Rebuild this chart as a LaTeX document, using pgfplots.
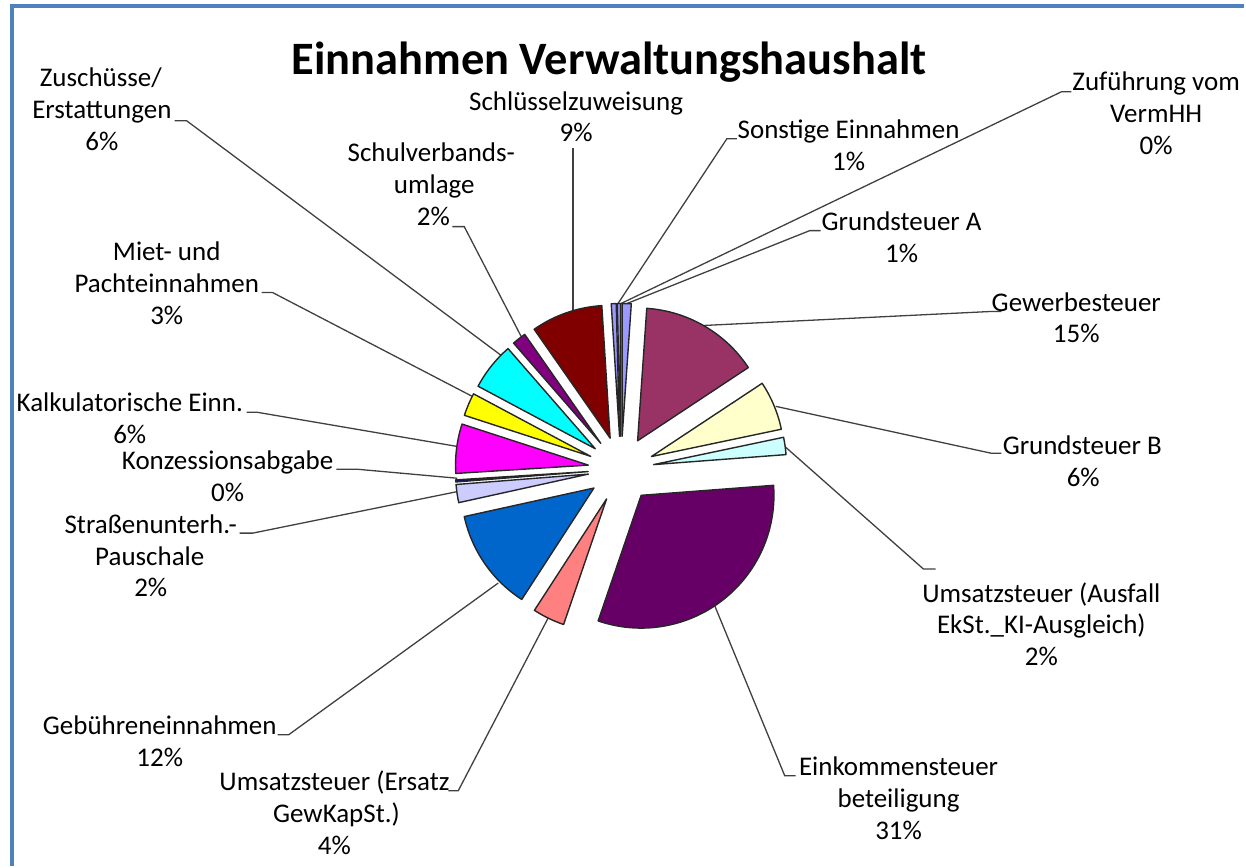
\documentclass[border=0pt]{standalone}
\usepackage{pgfplots}
\usepackage{pgfplotstable}
\pgfplotsset{compat=1.18}
\usepackage{fontspec}
\setmainfont{Carlito}

\definecolor{cGrA}{HTML}{9999FF}
\definecolor{cGew}{HTML}{993366}
\definecolor{cGrB}{HTML}{FFFFCC}
\definecolor{cUAus}{HTML}{CCFFFF}
\definecolor{cEink}{HTML}{660066}
\definecolor{cErs}{HTML}{FF8080}
\definecolor{cGeb}{HTML}{0066CC}
\definecolor{cStr}{HTML}{CCCCFF}
\definecolor{cKonz}{HTML}{000080}
\definecolor{cKalk}{HTML}{FF00FF}
\definecolor{cMiet}{HTML}{FFFF00}
\definecolor{cZusch}{HTML}{00FFFF}
\definecolor{cSchulv}{HTML}{800080}
\definecolor{cSchlue}{HTML}{800000}
\definecolor{cSonst}{HTML}{9999FF}
\definecolor{cZuf}{HTML}{9999FF}
\definecolor{frameblue}{HTML}{4F81BD}

\tikzset{leader/.style={draw=black!75, line width=1.3pt}}

% shares in percent, clockwise from 12 o'clock
\pgfplotstableread{
pct   col
1.1   cGrA
14.6  cGew
6.0   cGrB
2.1   cUAus
31.45 cEink
3.9   cErs
12.4  cGeb
2.2   cStr
0.25  cKonz
6.0   cKalk
2.8   cMiet
5.8   cZusch
1.7   cSchulv
8.7   cSchlue
0.6   cSonst
0.4   cZuf
}\piedata

\newcommand\lf{\fontsize{27}{32}\selectfont}
\newcommand\Lb[3]{\node[anchor=base, inner sep=0pt, font=\lf] at (axis cs:#1,#2) {#3};}

\begin{document}
\begin{tikzpicture}
\begin{axis}[
  scale only axis, width=1246pt, height=867pt,
  xmin=0, xmax=1246, ymin=0, ymax=867, y dir=reverse,
  hide axis, clip=false,
]
\path (axis cs:0,0) (axis cs:1246,867);
% frame
\draw[frameblue, line width=4pt] (axis cs:12,867) -- (axis cs:12,6) -- (axis cs:1246,6);

% title
\node[anchor=base, inner sep=0pt, font=\fontsize{46.5}{50}\selectfont\bfseries] at (axis cs:610,75) {Einnahmen Verwaltungshaushalt};

% leader lines
\draw[leader] (axis cs:175,121) -- (axis cs:187,121) -- (axis cs:502,356);
\draw[leader] (axis cs:453,227) -- (axis cs:465,227) -- (axis cs:522,337);
\draw[leader] (axis cs:574,148) -- (axis cs:574,311);
\draw[leader] (axis cs:738,139) -- (axis cs:728,139) -- (axis cs:619,304);
\draw[leader] (axis cs:1073,92) -- (axis cs:1063,92) -- (axis cs:622,304);
\draw[leader] (axis cs:822,231) -- (axis cs:811,231) -- (axis cs:628,304);
\draw[leader] (axis cs:262,293) -- (axis cs:273,293) -- (axis cs:473,397);
\draw[leader] (axis cs:247,413) -- (axis cs:258,413) -- (axis cs:457,447);
\draw[leader] (axis cs:337,470) -- (axis cs:358,470) -- (axis cs:458,479);
\draw[leader] (axis cs:240,534) -- (axis cs:253,534) -- (axis cs:460,492);
\draw[leader] (axis cs:1003,312) -- (axis cs:992,312) -- (axis cs:705,326);
\draw[leader] (axis cs:1003,454) -- (axis cs:993,454) -- (axis cs:777,407);
\draw[leader] (axis cs:937,570) -- (axis cs:925,570) -- (axis cs:787,448);
\draw[leader] (axis cs:797,777) -- (axis cs:786,777) -- (axis cs:716,607);
\draw[leader] (axis cs:449,792) -- (axis cs:459,792) -- (axis cs:549,619);
\draw[leader] (axis cs:278,736) -- (axis cs:289,736) -- (axis cs:499,584);

% pie slices from the table
\pgfplotstablegetrowsof{\piedata}
\pgfmathtruncatemacro{\nrows}{\pgfplotsretval-1}
\gdef\cumang{90}
\pgfplotsforeachungrouped \i in {0,...,\nrows}{%
  \pgfplotstablegetelem{\i}{pct}\of\piedata
  \pgfmathsetmacro{\angA}{\cumang}%
  \pgfmathsetmacro{\angB}{\cumang-3.6*\pgfplotsretval}%
  \pgfplotstablegetelem{\i}{col}\of\piedata
  \let\slicecol\pgfplotsretval
  \pgfmathsetmacro{\angM}{(\angA+\angB)/2}%
  \pgfmathsetmacro{\tipx}{622+33*cos(\angM)}%
  \pgfmathsetmacro{\tipy}{470-33*sin(\angM)}%
  \edef\doslice{\noexpand\filldraw[fill=\slicecol, draw=black!85, line width=1.4pt, line join=round] (axis cs:\tipx,\tipy) -- ++(\angA:133pt) arc[start angle=\angA, end angle=\angB, radius=133pt] -- cycle;}%
  \doslice
  \global\let\cumang\angB
}

% labels
\Lb{101}{87}{Zuschüsse/}
\Lb{102}{119}{Erstattungen}
\Lb{102}{151}{6\%}
\Lb{577}{111}{Schlüsselzuweisung}
\Lb{577}{142}{9\%}
\Lb{850}{139}{Sonstige Einnahmen}
\Lb{850}{171}{1\%}
\Lb{1158}{91}{Zuführung vom}
\Lb{1158}{123}{VermHH}
\Lb{1158}{155}{0\%}
\Lb{432}{162}{Schulverbands-}
\Lb{435}{194}{umlage}
\Lb{434}{226}{2\%}
\Lb{903}{231}{Grundsteuer A}
\Lb{903}{263}{1\%}
\Lb{167}{261}{Miet- und}
\Lb{167}{293}{Pachteinnahmen}
\Lb{167}{325}{3\%}
\Lb{1078}{312}{Gewerbesteuer}
\Lb{1078}{343}{15\%}
\Lb{130}{412}{Kalkulatorische Einn.}
\Lb{130}{444}{6\%}
\Lb{228}{470}{Konzessionsabgabe}
\Lb{228}{502}{0\%}
\Lb{151}{534}{Straßenunterh.-}
\Lb{150}{566}{Pauschale}
\Lb{151}{597}{2\%}
\Lb{1084}{455}{Grundsteuer B}
\Lb{1085}{487}{6\%}
\Lb{1043}{603}{Umsatzsteuer (Ausfall}
\Lb{1043}{635}{EkSt.\_KI-Ausgleich)}
\Lb{1043}{667}{2\%}
\Lb{160}{736}{Gebühreneinnahmen}
\Lb{160}{768}{12\%}
\Lb{335}{792}{Umsatzsteuer (Ersatz}
\Lb{337}{824}{GewKapSt.)}
\Lb{335}{856}{4\%}
\Lb{900}{777}{Einkommensteuer}
\Lb{900}{809}{beteiligung}
\Lb{900}{841}{31\%}
\end{axis}
\end{tikzpicture}
\end{document}
